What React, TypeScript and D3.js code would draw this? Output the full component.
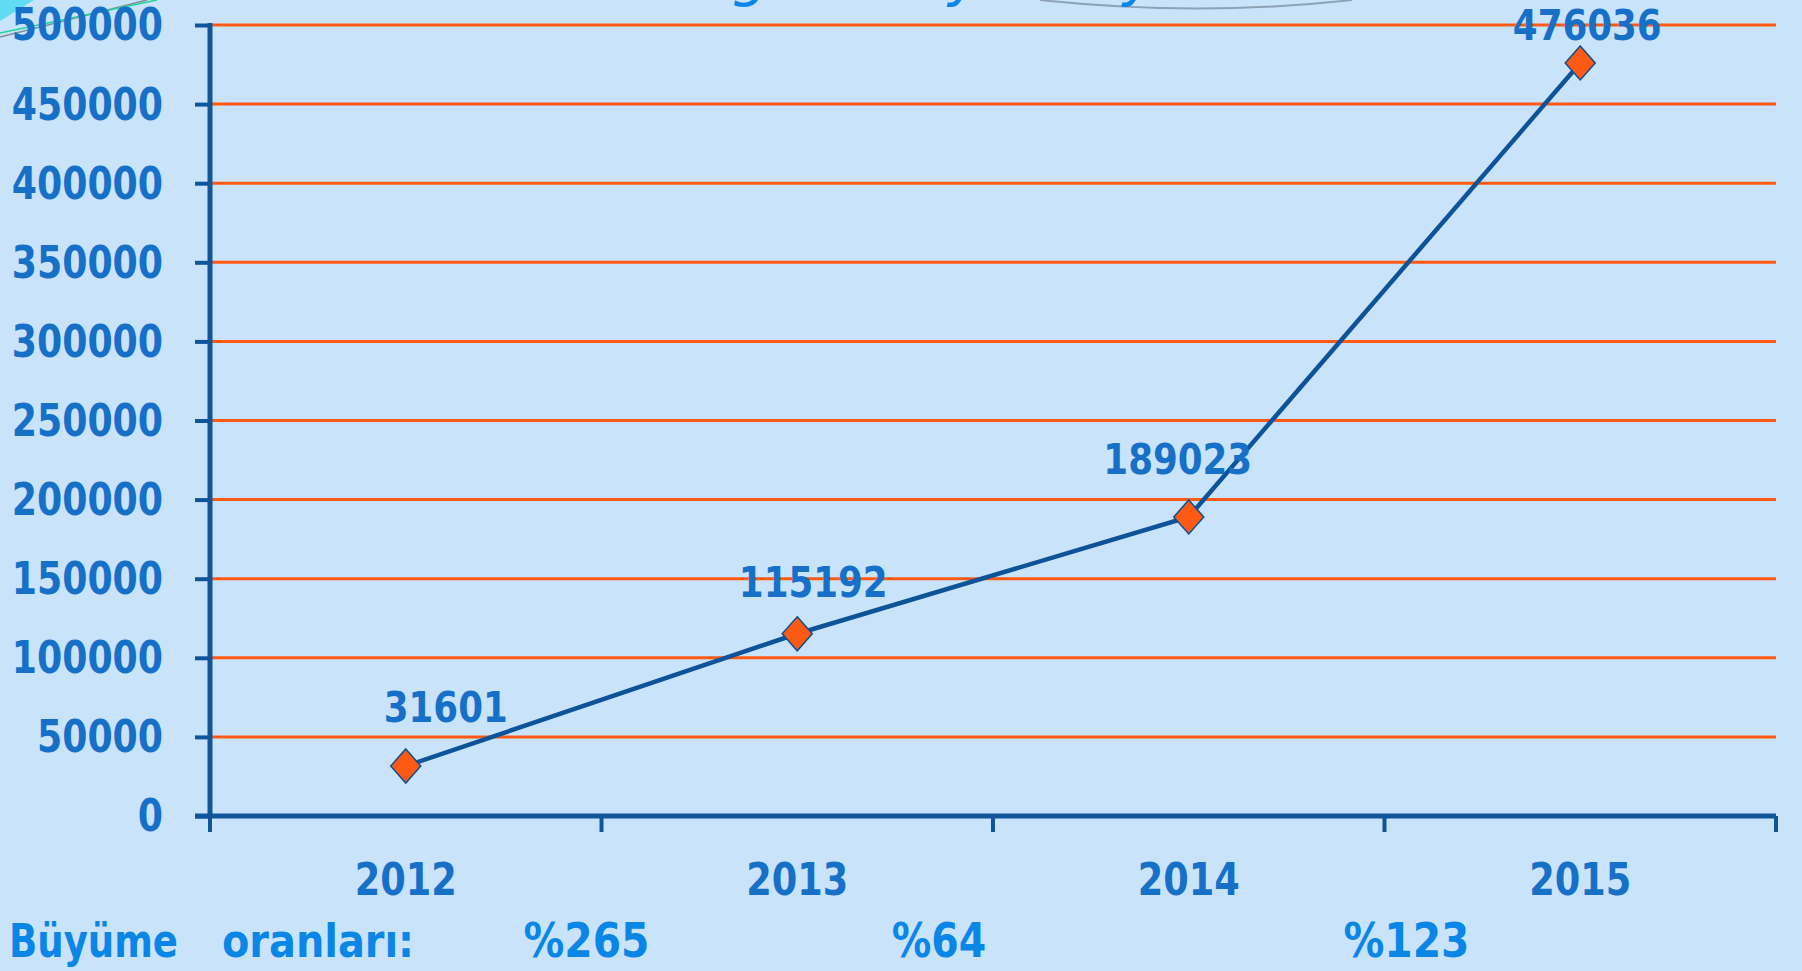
import React, { useEffect, useRef } from 'react';
import * as d3 from 'd3';

// Chart data
const years = ['2012', '2013', '2014', '2015'];
const pageCounts = [31601, 115192, 189023, 476036];
const yTicks = [0, 50000, 100000, 150000, 200000, 250000, 300000, 350000, 400000, 450000, 500000];
const growthLabels = ['%265', '%64', '%123'];
const growthTitle = ['Büyüme', 'oranları:'];
const chartTitle = 'Yıllara göre sayfa sayıları';

// small manual nudges for the value labels (they were dragged around in the original)
const labelDx = [40, 16, -11, 7];
const labelDy = [-44, -37, -43, -23];
const growthDx = [-15, -54, 22];

const FONT = '"Comic Sans MS", "DejaVu Sans", sans-serif';
// the original font is narrow, so squeeze digits to about this many px each
const DIGIT_W = 25.2;

const App = () => {
  const ref = useRef<SVGSVGElement | null>(null);

  useEffect(() => {
    const width = 1802;
    const height = 971;
    const left = 210;
    const right = 1776;
    const top = 25;
    const bottom = 816;

    const svg = d3.select(ref.current);
    svg.selectAll('*').remove();
    svg.attr('width', width).attr('height', height);

    svg.append('rect').attr('width', width).attr('height', height).attr('fill', '#c9e3fa');

    // corner decoration from the slide background
    svg.append('path').attr('d', 'M0,0 L34,0 L0,21 Z').attr('fill', '#5fdcf2');
    svg.append('line').attr('x1', 0).attr('y1', 37).attr('x2', 147).attr('y2', 0)
      .attr('stroke', '#7f8d99').attr('stroke-width', 1.5);
    svg.append('line').attr('x1', 0).attr('y1', 33).attr('x2', 157).attr('y2', 0)
      .attr('stroke', '#22d49a').attr('stroke-width', 1.5);

    // title, mostly cut off at the top of the picture
    svg.append('path').attr('d', 'M1040,0 Q1200,17 1352,0')
      .attr('fill', 'none').attr('stroke', '#8ea2b5').attr('stroke-width', 2);
    svg.append('text')
      .attr('x', 900).attr('y', -5)
      .attr('text-anchor', 'middle')
      .attr('font-family', FONT).attr('font-style', 'italic')
      .attr('font-size', 58).attr('fill', '#0a86e6')
      .text(chartTitle);

    const x = d3.scaleBand().domain(years).range([left, right]).padding(0);
    const y = d3.scaleLinear().domain([0, 500000]).range([bottom, top]);
    const cx = (d: string) => (x(d) as number) + x.bandwidth() / 2;

    // gridlines
    svg.append('g')
      .selectAll('line')
      .data(yTicks.filter((t) => t > 0))
      .join('line')
      .attr('x1', left).attr('x2', right)
      .attr('y1', (d) => y(d)).attr('y2', (d) => y(d))
      .attr('stroke', '#ff5a14').attr('stroke-width', 3);

    const axisColor = '#0f5599';

    // y axis
    const yAxis = svg.append('g')
      .attr('transform', `translate(${left},0)`)
      .call(d3.axisLeft(y).tickValues(yTicks).tickSize(15).tickPadding(32).tickFormat(d3.format('d')));
    yAxis.select('.domain').remove();
    yAxis.selectAll('.tick line').attr('stroke', axisColor).attr('stroke-width', 4);
    yAxis.selectAll<SVGTextElement, number>('.tick text')
      .attr('font-family', FONT).attr('font-weight', 'bold')
      .attr('font-size', 44).attr('fill', '#1670c8').attr('dy', '0.34em')
      .attr('textLength', (d) => String(d).length * DIGIT_W)
      .attr('lengthAdjust', 'spacingAndGlyphs');
    svg.append('line').attr('x1', left).attr('x2', left).attr('y1', top - 2).attr('y2', bottom + 2)
      .attr('stroke', axisColor).attr('stroke-width', 5);

    // x axis
    const bounds = years.map((d) => x(d) as number).concat([right]);
    svg.append('g')
      .selectAll('line')
      .data(bounds)
      .join('line')
      .attr('x1', (d) => d).attr('x2', (d) => d)
      .attr('y1', bottom).attr('y2', bottom + 16)
      .attr('stroke', axisColor).attr('stroke-width', 4);
    svg.append('line').attr('x1', left - 15).attr('x2', right).attr('y1', bottom).attr('y2', bottom)
      .attr('stroke', axisColor).attr('stroke-width', 5);

    svg.append('g')
      .selectAll('text')
      .data(years)
      .join('text')
      .attr('x', (d) => cx(d)).attr('y', 895)
      .attr('text-anchor', 'middle')
      .attr('font-family', FONT).attr('font-weight', 'bold')
      .attr('font-size', 44).attr('fill', '#1670c8')
      .attr('textLength', (d) => d.length * 25.5)
      .attr('lengthAdjust', 'spacingAndGlyphs')
      .text((d) => d);

    // line + markers
    const pts = years.map((d, i) => ({ year: d, value: pageCounts[i] }));
    const line = d3.line<{ year: string; value: number }>()
      .x((d) => cx(d.year))
      .y((d) => y(d.value));
    svg.append('path').datum(pts)
      .attr('fill', 'none').attr('stroke', '#0d5399').attr('stroke-width', 4.5)
      .attr('d', line);

    svg.append('g')
      .selectAll('path')
      .data(pts)
      .join('path')
      .attr('transform', (d) => `translate(${cx(d.year)},${y(d.value)})`)
      .attr('d', 'M0,-17 L15,0 L0,17 L-15,0 Z')
      .attr('fill', '#ff5a14').attr('stroke', '#0d4f92').attr('stroke-width', 1.5);

    svg.append('g')
      .selectAll('text')
      .data(pts)
      .join('text')
      .attr('x', (d, i) => cx(d.year) + labelDx[i])
      .attr('y', (d, i) => y(d.value) + labelDy[i])
      .attr('text-anchor', 'middle')
      .attr('font-family', FONT).attr('font-weight', 'bold')
      .attr('font-size', 42).attr('fill', '#1670c8')
      .attr('textLength', (d) => String(d.value).length * 24.8)
      .attr('lengthAdjust', 'spacingAndGlyphs')
      .text((d) => d.value);

    // growth rates row
    const growthColor = '#0a86e6';
    svg.append('text').attr('x', 9).attr('y', 957)
      .attr('font-family', FONT).attr('font-weight', 'bold')
      .attr('font-size', 46).attr('fill', growthColor)
      .attr('textLength', 169).attr('lengthAdjust', 'spacingAndGlyphs')
      .text(growthTitle[0]);
    svg.append('text').attr('x', 222).attr('y', 957)
      .attr('font-family', FONT).attr('font-weight', 'bold')
      .attr('font-size', 46).attr('fill', growthColor)
      .attr('textLength', 192).attr('lengthAdjust', 'spacingAndGlyphs')
      .text(growthTitle[1]);

    svg.append('g')
      .selectAll('text')
      .data(growthLabels)
      .join('text')
      .attr('x', (d, i) => (cx(years[i]) + cx(years[i + 1])) / 2 + growthDx[i])
      .attr('y', 957)
      .attr('text-anchor', 'middle')
      .attr('font-family', FONT).attr('font-weight', 'bold')
      .attr('font-size', 48).attr('fill', growthColor)
      .attr('textLength', (d) => d.length * 31.5)
      .attr('lengthAdjust', 'spacingAndGlyphs')
      .text((d) => d);
  }, []);

  return (
    <div style={{ position: 'absolute', left: 0, top: 0 }}>
      <svg ref={ref} style={{ display: 'block' }}></svg>
    </div>
  );
};

export default App;
